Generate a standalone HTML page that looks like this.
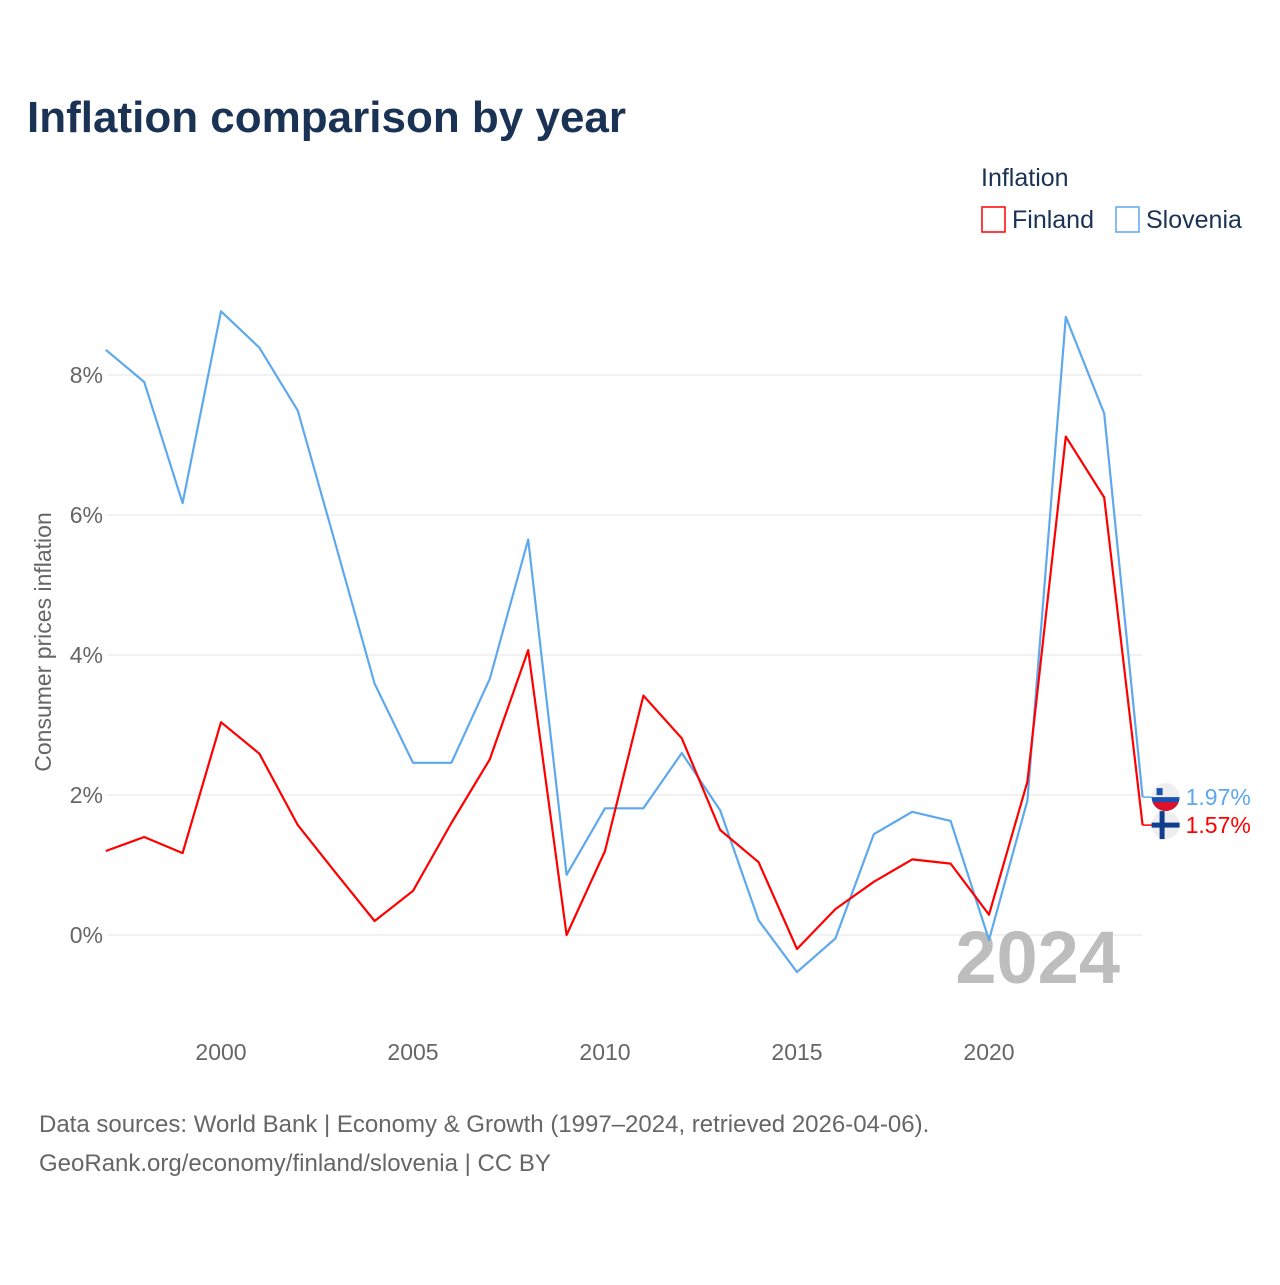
<!DOCTYPE html>
<html><head><meta charset="utf-8">
<style>
html,body{margin:0;padding:0;background:#fff;}
body{width:1280px;height:1280px;overflow:hidden;font-family:"Liberation Sans",sans-serif;}
</style></head>
<body>
<svg id="chart" width="1280" height="1280" xmlns="http://www.w3.org/2000/svg">
<text x="27" y="132" font-size="44" font-weight="bold" fill="#1a3354">Inflation comparison by year</text>
<text x="981" y="186" font-size="25" fill="#1a3354">Inflation</text>
<g>
<rect x="982" y="207" width="23" height="25" fill="none" stroke="#ff0000" stroke-width="1.5"/>
<text x="1012" y="228" font-size="25" fill="#1a3354">Finland</text></g>
<g>
<rect x="1116" y="207" width="23" height="25" fill="none" stroke="#5ea8ee" stroke-width="1.5"/>
<text x="1146" y="228" font-size="25" fill="#1a3354">Slovenia</text></g>
<text transform="translate(51,642) rotate(-90)" text-anchor="middle" font-size="23" fill="#666">Consumer prices inflation</text>
<g id="grid"></g><g id="yticks"></g><g id="xticks"></g>
<text x="1120" y="983" text-anchor="end" font-size="74" font-weight="bold" fill="#bdbdbd">2024</text>
<g id="series"></g>
<text x="39" y="1132" font-size="24" fill="#666">Data sources: World Bank | Economy &amp; Growth (1997–2024, retrieved 2026-04-06).</text>
<text x="39" y="1171" font-size="24" fill="#666">GeoRank.org/economy/finland/slovenia | CC BY</text>
</svg>
<script>
const years=[1997,1998,1999,2000,2001,2002,2003,2004,2005,2006,2007,2008,2009,2010,2011,2012,2013,2014,2015,2016,2017,2018,2019,2020,2021,2022,2023,2024];
const slovenia=[8.36,7.9,6.17,8.91,8.39,7.49,5.55,3.59,2.46,2.46,3.66,5.65,0.86,1.81,1.81,2.6,1.78,0.21,-0.53,-0.05,1.44,1.76,1.63,-0.07,1.92,8.83,7.45,1.97];
const finland=[1.2,1.4,1.17,3.04,2.59,1.57,0.88,0.2,0.63,1.6,2.51,4.07,0.0,1.2,3.42,2.81,1.5,1.04,-0.2,0.37,0.76,1.08,1.02,0.29,2.19,7.12,6.25,1.57];
const yTicks=[0,2,4,6,8];
const xTicks=[2000,2005,2010,2015,2020];
const NS="http://www.w3.org/2000/svg";
const X=y=>221+(y-2000)*38.4;
const Y=v=>935-v*70;
function mk(tag,attrs,parent){const e=document.createElementNS(NS,tag);for(const k in attrs)e.setAttribute(k,attrs[k]);document.getElementById(parent).appendChild(e);return e;}
yTicks.forEach(v=>{
 const l=mk('line',{x1:107,x2:1142,y1:Y(v),y2:Y(v),stroke:'#e6e6e6','stroke-width':1},'grid');
 
 
 const t=mk('text',{x:103,y:Y(v)+8,'text-anchor':'end','font-size':23,fill:'#666'},'yticks');
 t.textContent=v+'%';
 
 
});
xTicks.forEach(v=>{
 const t=mk('text',{x:X(v),y:1060,'text-anchor':'middle','font-size':23,fill:'#666'},'xticks');
 t.textContent=v;
 
 
});
function line(vals,color,name){
 const p=mk('polyline',{points:vals.map((v,i)=>X(years[i])+','+Y(v)).join(' '),fill:'none',stroke:color,'stroke-width':2.2,'stroke-linejoin':'round'},'series');
 
 
}
line(slovenia,'#5ea8ee','slovenia-line');
line(finland,'#ff0000','finland-line');
function endLabel(vals,color,name,flag){
 const v=vals[vals.length-1],x=X(years[years.length-1]),y=Y(v);
 mk('line',{x1:x,x2:x+10,y1:y,y2:y,stroke:color,'stroke-width':1.5},'series');
 const g=mk('g',{},'series');
 
 
 const cx=x+23;
 if(flag==='si'){
  g.innerHTML=`<circle cx="${cx}" cy="${y}" r="14" fill="#eee"/><path d="M${cx-14},${y} A14,14 0 0,0 ${cx+14},${y} Z" fill="#1a50b0"/><path d="M${cx-13},${y+5} A14,14 0 0,0 ${cx+13},${y+5} Z" fill="#e0102a"/><rect x="${cx-9}" y="${y-9}" width="6" height="7" fill="#1a50b0"/>`;
 } else {
  g.innerHTML=`<circle cx="${cx}" cy="${y}" r="14" fill="#eee"/><rect x="${cx-14}" y="${y-2.5}" width="28" height="5" fill="#103d8c"/><rect x="${cx-6}" y="${y-14}" width="5" height="28" fill="#103d8c"/>`;
 }
 const t=mk('text',{x:x+43,y:y+8,'font-size':23,fill:color},'series');
 t.textContent=v.toFixed(2)+'%';
 
 
}
endLabel(slovenia,'#5ea8ee','slovenia','si');
endLabel(finland,'#ff0000','finland','fi');
</script>
</body></html>
